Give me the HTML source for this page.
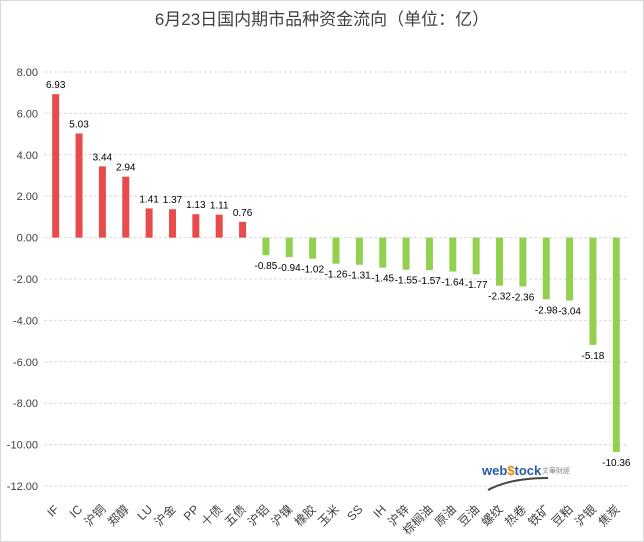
<!DOCTYPE html>
<html><head><meta charset="utf-8"><style>
body{margin:0;background:#fff;}
svg{display:block;font-family:"Liberation Sans","Noto Sans CJK SC",sans-serif;}
</style></head><body>
<svg id="chart" width="644" height="542" viewBox="0 0 644 542">
<rect x="0.5" y="0.5" width="643" height="541" fill="#fff" stroke="#d9d9d9"/>
<text x="322" y="25" text-anchor="middle" font-size="17" fill="#404040">6月23日国内期市品种资金流向（单位：亿）</text>
<g id="grid"></g><g id="bars"></g><g id="vals"></g><g id="xl"></g>
<g>
<text x="482" y="475" font-size="13" font-weight="bold" fill="#2a5aa8">web<tspan fill="#e08a00">$</tspan>tock</text>
<text x="542" y="473" font-size="7" fill="#888">文華財經</text>
<path d="M488 490 Q510 478 548 478" stroke="#444" stroke-width="2" fill="none"/>
</g>
</svg>
<script>
const categories=["IF","IC","沪铜","郑醇","LU","沪金","PP","十债","五债","沪铝","沪镍","橡胶","玉米","SS","IH","沪锌","棕榈油","原油","豆油","螺纹","热卷","铁矿","豆粕","沪银","焦炭"];
const values=[6.93,5.03,3.44,2.94,1.41,1.37,1.13,1.11,0.76,-0.85,-0.94,-1.02,-1.26,-1.31,-1.45,-1.55,-1.57,-1.64,-1.77,-2.32,-2.36,-2.98,-3.04,-5.18,-10.36];
const ticks=[8,6,4,2,0,-2,-4,-6,-8,-10,-12];
const NS="http://www.w3.org/2000/svg";
const plotL=44,plotR=628,plotT=72,plotB=486,ymax=8,ymin=-12;
function y(v){return plotT+(ymax-v)/(ymax-ymin)*(plotB-plotT);}
const step=(plotR-plotL)/categories.length;
function x(i){return plotL+step*(i+0.5);}
function mk(tag,attrs,parent){const e=document.createElementNS(NS,tag);for(const k in attrs)e.setAttribute(k,attrs[k]);parent.appendChild(e);return e;}
const grid=document.getElementById('grid'),bars=document.getElementById('bars'),vals=document.getElementById('vals'),xl=document.getElementById('xl');
ticks.forEach(t=>{
 const l=mk('line',{x1:plotL,x2:plotR,y1:y(t),y2:y(t),stroke:'#d9d9d9','stroke-dasharray':'3,2'},grid);
 
 
 const tx=mk('text',{x:38,y:y(t)+4,'text-anchor':'end','font-size':'11',fill:'#404040'},grid);
 tx.textContent=t.toFixed(2);
 
 
});
values.forEach((v,i)=>{
 const y0=y(0),y1=y(v);
 const r=mk('rect',{x:x(i)-3.5,width:7,y:Math.min(y0,y1),height:Math.abs(y1-y0),fill:v>=0?'#e84b4b':'#92d050'},bars);
 
 
 const t=mk('text',{x:x(i),y:v>=0?y1-6:y1+14,'text-anchor':'middle','font-size':'10',fill:'#000'},vals);
 t.textContent=v.toFixed(2);
 
 
 const c=mk('text',{x:x(i)+4,y:510,'text-anchor':'end','font-size':'12',fill:'#404040',transform:`rotate(-45 ${x(i)+4} 510)`},xl);
 c.textContent=categories[i];
 
 
});
</script>
</body></html>
